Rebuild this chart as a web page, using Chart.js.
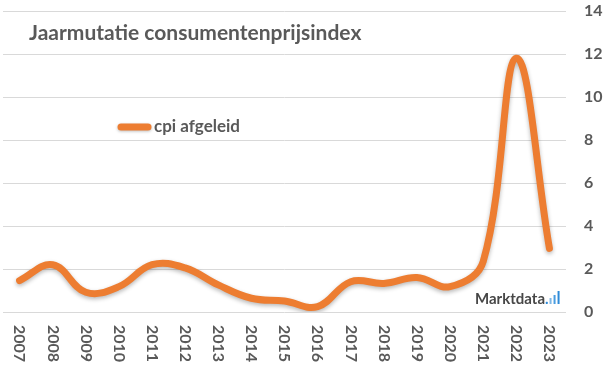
<!DOCTYPE html>
<html>
<head>
<meta charset="utf-8">
<script src="https://cdn.jsdelivr.net/npm/chart.js@4.4.1/dist/chart.umd.min.js"></script>
<style>
  html, body { margin: 0; padding: 0; background: #fff; }
  #wrap { width: 605px; height: 369px; position: relative; }
</style>
</head>
<body>
<div id="wrap"><canvas id="cpiChart"></canvas></div>
<script>
const years    = ['2007', '2008', '2009', '2010', '2011', '2012', '2013', '2014', '2015', '2016', '2017', '2018', '2019', '2020', '2021', '2022', '2023'];
const cpiValues = [1.46, 2.2, 0.92, 1.18, 2.2, 2.05, 1.26, 0.64, 0.51, 0.25, 1.41, 1.33, 1.6, 1.18, 2.35, 11.8, 2.96];
const yTicks   = [0, 2, 4, 6, 8, 10, 12, 14];
const titleText  = 'Jaarmutatie consumentenprijsindex';
const seriesName = 'cpi afgeleid';

const ORANGE = '#ED7D31';
const GREY   = '#595959';
const FONT   = 'Lato, "Open Sans", sans-serif';

// soft drop shadow under the line, like the office chart
const shadowPlugin = {
    id: 'lineShadow',
    beforeDatasetsDraw(chart) {
        const ctx = chart.ctx;
        ctx.save();
        ctx.shadowColor = 'rgba(0,0,0,0.28)';
        ctx.shadowBlur = 4;
        ctx.shadowOffsetY = 2;
    },
    afterDatasetsDraw(chart) { chart.ctx.restore(); }
};

// title, legend, rotated year labels and watermark
const decorPlugin = {
    id: 'decor',
    afterDraw(chart) {
        const { ctx, scales: { x } } = chart;
        ctx.save();

        ctx.fillStyle = GREY;
        ctx.font = `bold 21px ${FONT}`;
        ctx.textAlign = 'left';
        ctx.textBaseline = 'alphabetic';
        ctx.fillText(titleText, 29, 40);

        ctx.save();
        ctx.shadowColor = 'rgba(0,0,0,0.25)';
        ctx.shadowBlur = 3;
        ctx.shadowOffsetY = 1;
        ctx.strokeStyle = ORANGE;
        ctx.lineWidth = 7;
        ctx.lineCap = 'round';
        ctx.beginPath();
        ctx.moveTo(121, 127);
        ctx.lineTo(148, 127);
        ctx.stroke();
        ctx.restore();

        ctx.fillStyle = GREY;
        ctx.font = `bold 17px ${FONT}`;
        ctx.fillText(seriesName, 154, 132);

        ctx.font = `bold 16px ${FONT}`;
        ctx.textBaseline = 'middle';
        years.forEach((label, i) => {
            const px = x.getPixelForTick(i);
            ctx.save();
            ctx.translate(px, 325);
            ctx.rotate(Math.PI / 2);
            ctx.fillText(label, 0, 0);
            ctx.restore();
        });

        ctx.textBaseline = 'alphabetic';
        ctx.font = `bold 15px ${FONT}`;
        ctx.fillStyle = '#474747';
        ctx.fillText('Marktdata', 475, 304);
        const w = ctx.measureText('Marktdata').width;
        ctx.fillStyle = '#2e8bd8';
        ctx.fillText('.', 475 + w, 304);
        const bx = 475 + w + ctx.measureText('.').width + 1;
        ctx.fillStyle = '#7fb8e6'; ctx.fillRect(bx, 298, 2, 6);
        ctx.fillStyle = '#4a9de0'; ctx.fillRect(bx + 4, 295, 2, 9);
        ctx.fillStyle = '#2e8bd8'; ctx.fillRect(bx + 8, 291, 2, 13);

        ctx.restore();
    }
};

new Chart(document.getElementById('cpiChart'), {
    type: 'line',
    data: {
        labels: years,
        datasets: [{
            label: seriesName,
            data: cpiValues,
            borderColor: ORANGE,
            borderWidth: 7,
            borderCapStyle: 'round',
            borderJoinStyle: 'round',
            pointRadius: 0,
            tension: 0.4,
            fill: false
        }]
    },
    options: {
        responsive: true, maintainAspectRatio: false, animation: false,
        layout: { padding: { left: 3, top: 11, right: 0, bottom: 0 } },
        plugins: { legend: { display: false }, title: { display: false }, tooltip: { enabled: false } },
        scales: {
            x: {
                offset: true,
                grid: { display: false },
                border: { display: false },
                ticks: { display: false },
                afterFit: s => { s.height = 57; }
            },
            y: {
                position: 'right',
                min: 0, max: 14,
                afterBuildTicks: s => { s.ticks = yTicks.map(v => ({ value: v })); },
                grid: { color: '#d9d9d9', lineWidth: 1, drawTicks: false },
                border: { display: false },
                ticks: { color: GREY, padding: 18, font: { family: FONT, size: 16, weight: 'bold' } },
                afterFit: s => { s.width = 39; s.paddingTop = 0; s.paddingBottom = 0; }
            }
        }
    },
    plugins: [shadowPlugin, decorPlugin]
});
</script>
</body>
</html>
